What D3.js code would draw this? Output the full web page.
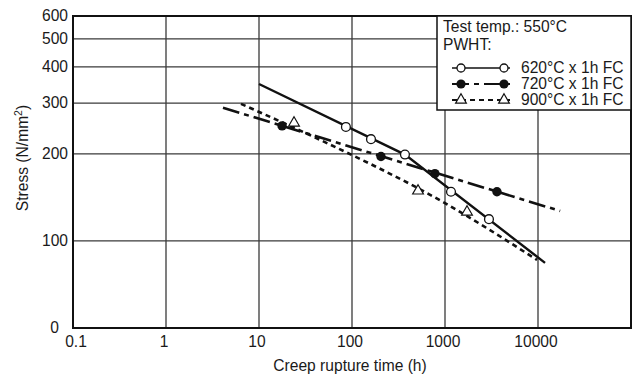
<!DOCTYPE html>
<html>
<head>
<meta charset="utf-8">
<script src="https://cdn.jsdelivr.net/npm/d3@7"></script>
<style>
  body { margin: 0; background: #fff; }
  text { font-family: "Liberation Sans", Arial, sans-serif; fill: #1a1a1a; }
</style>
</head>
<body>
<svg id="chart" width="637" height="376"></svg>
<script>
// axis ticks
const xTicks = [0.1, 1, 10, 100, 1000, 10000];
const xTickLabels = ["0.1", "1", "10", "100", "1000", "10000"];
const yTicks = [50, 100, 200, 300, 400, 500, 600];
const yTickLabels = ["0", "100", "200", "300", "400", "500", "600"];

// measured points (time h, stress N/mm2)
const t620 = [86, 160, 371, 1160, 2970];
const s620 = [248, 225, 199, 148, 119];
const t720 = [17.7, 205, 778, 3620];
const s720 = [250, 196, 171, 148];
const t900 = [23.8, 513, 1725];
const s900 = [256, 149, 126];

// fitted lines
const fitT620 = [10, 371, 11900];
const fitS620 = [349, 199, 84];
const fitT720 = [4.1, 17300];
const fitS720 = [289, 127];
const fitT900 = [6.4, 45, 929, 9770];
const fitS900 = [298, 224, 137, 86];

const legendLabels = ["620°C x 1h FC", "720°C x 1h FC", "900°C x 1h FC"];

const svg = d3.select("#chart");
const pLeft = 73, pRight = 631, pTop = 16, pBottom = 328;
const fs = 15.6;

const x = d3.scaleLog().domain([0.1, 100000]).range([pLeft, pRight]);
const y = d3.scaleLog().domain([50, 600]).range([pBottom, pTop]);

// grid lines
svg.append("g").selectAll("line")
  .data(xTicks.slice(1))
  .enter().append("line")
  .attr("x1", d => x(d)).attr("x2", d => x(d))
  .attr("y1", pTop).attr("y2", pBottom)
  .attr("stroke", "#3a3a3a").attr("stroke-width", 1.3);

svg.append("g").selectAll("line")
  .data(yTicks.slice(1, -1))
  .enter().append("line")
  .attr("x1", pLeft).attr("x2", pRight)
  .attr("y1", d => y(d)).attr("y2", d => y(d))
  .attr("stroke", "#3a3a3a").attr("stroke-width", 1.3);

// tick labels
svg.append("g").selectAll("text")
  .data(xTicks)
  .enter().append("text")
  .attr("x", (d, i) => x(d) + (i === 0 ? 3 : -2))
  .attr("y", 347)
  .attr("text-anchor", "middle")
  .attr("font-size", fs)
  .text((d, i) => xTickLabels[i]);

svg.append("g").selectAll("text")
  .data(yTicks)
  .enter().append("text")
  .attr("x", (d, i) => i === 0 ? 59 : 68)
  .attr("y", d => y(d))
  .attr("dy", "0.35em")
  .attr("text-anchor", "end")
  .attr("font-size", fs)
  .text((d, i) => yTickLabels[i]);

// axis titles
svg.append("text")
  .attr("x", (pLeft + pRight) / 2 - 2)
  .attr("y", 371)
  .attr("text-anchor", "middle")
  .attr("font-size", fs)
  .text("Creep rupture time (h)");

const yt = svg.append("text")
  .attr("transform", "translate(28,158) rotate(-90)")
  .attr("text-anchor", "middle")
  .attr("font-size", fs);
yt.append("tspan").text("Stress (N/mm");
yt.append("tspan").attr("font-size", 10.5).attr("dy", -6).text("2");
yt.append("tspan").attr("dy", 6).text(")");

// lines
const line = d3.line().x(d => x(d[0])).y(d => y(d[1]));

svg.append("path")
  .datum(d3.zip(fitT620, fitS620))
  .attr("d", line)
  .attr("fill", "none").attr("stroke", "#111").attr("stroke-width", 2.4);

svg.append("path")
  .datum(d3.zip(fitT720, fitS720))
  .attr("d", line)
  .attr("fill", "none").attr("stroke", "#111").attr("stroke-width", 2.6)
  .attr("stroke-dasharray", "17,5,5,5");

svg.append("path")
  .datum(d3.zip(fitT900, fitS900))
  .attr("d", line.curve(d3.curveMonotoneX))
  .attr("fill", "none").attr("stroke", "#111").attr("stroke-width", 2.6)
  .attr("stroke-dasharray", "5,4");

// markers
const tri = d3.symbol().type(d3.symbolTriangle).size(50);

svg.append("g").selectAll("circle")
  .data(d3.zip(t620, s620))
  .enter().append("circle")
  .attr("cx", d => x(d[0])).attr("cy", d => y(d[1])).attr("r", 4.4)
  .attr("fill", "#fff").attr("stroke", "#111").attr("stroke-width", 1.3);

svg.append("g").selectAll("circle")
  .data(d3.zip(t720, s720))
  .enter().append("circle")
  .attr("cx", d => x(d[0])).attr("cy", d => y(d[1])).attr("r", 4.7)
  .attr("fill", "#111");

svg.append("g").selectAll("path")
  .data(d3.zip(t900, s900))
  .enter().append("path")
  .attr("d", tri)
  .attr("transform", d => `translate(${x(d[0])},${y(d[1])})`)
  .attr("fill", "#fff").attr("stroke", "#111").attr("stroke-width", 1.2);

// frame
svg.append("rect")
  .attr("x", pLeft).attr("y", pTop)
  .attr("width", pRight - pLeft).attr("height", pBottom - pTop)
  .attr("fill", "none").attr("stroke", "#111").attr("stroke-width", 2);

// legend
const lg = svg.append("g");
lg.append("rect")
  .attr("x", 437).attr("y", 16).attr("width", 194).attr("height", 94)
  .attr("fill", "#fff").attr("stroke", "#111").attr("stroke-width", 1.5);
lg.append("text").attr("x", 443).attr("y", 32).attr("font-size", fs).text("Test temp.: 550°C");
lg.append("text").attr("x", 443).attr("y", 50).attr("font-size", fs).text("PWHT:");

const rowY = [68, 84, 100];
const dashes = [null, "17,5,5,5", "5,4"];
rowY.forEach((ry, i) => {
  lg.append("line")
    .attr("x1", 452).attr("x2", 510).attr("y1", ry).attr("y2", ry)
    .attr("stroke", "#111").attr("stroke-width", i === 0 ? 1.5 : 2)
    .attr("stroke-dasharray", dashes[i]);
  [461, 504].forEach(mx => {
    if (i === 0) {
      lg.append("circle").attr("cx", mx).attr("cy", ry).attr("r", 4)
        .attr("fill", "#fff").attr("stroke", "#111").attr("stroke-width", 1.3);
    } else if (i === 1) {
      lg.append("circle").attr("cx", mx).attr("cy", ry).attr("r", 4.6).attr("fill", "#111");
    } else {
      lg.append("path").attr("d", tri).attr("transform", `translate(${mx},${ry})`)
        .attr("fill", "#fff").attr("stroke", "#111").attr("stroke-width", 1.2);
    }
  });
  lg.append("text").attr("x", 521).attr("y", ry + 5).attr("font-size", fs).text(legendLabels[i]);
});
</script>
</body>
</html>
